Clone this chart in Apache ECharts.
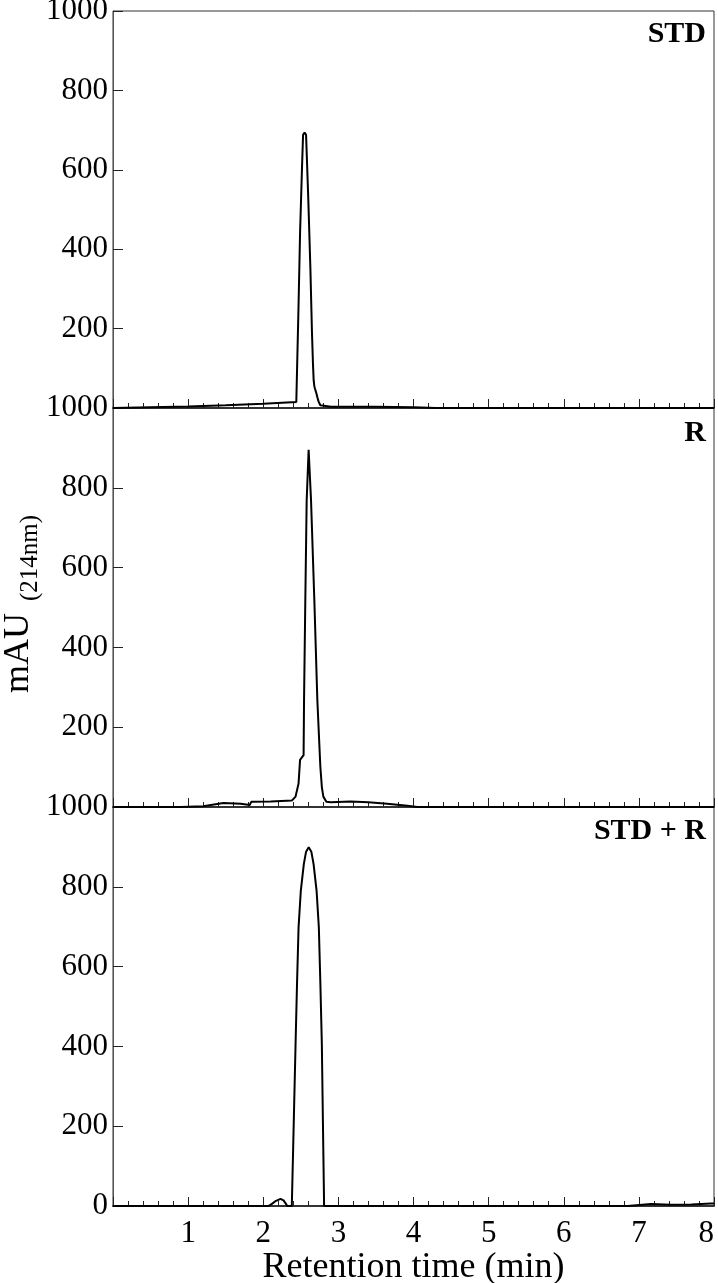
<!DOCTYPE html>
<html>
<head>
<meta charset="utf-8">
<script src="https://cdn.jsdelivr.net/npm/echarts@6/dist/echarts.min.js"></script>
<style>
  html, body { margin: 0; padding: 0; background: #fff; }
  #main { width: 718px; height: 1283px; }
</style>
</head>
<body>
<div id="main"></div>
<script>
// retention time (min) / signal (mAU)
var stdTime = [0, 0.5, 1, 1.5, 2, 2.44, 2.47, 2.49, 2.515, 2.53, 2.55, 2.57, 2.6, 2.627, 2.649, 2.662, 2.671, 2.68, 2.69, 2.707, 2.72, 2.737, 2.76, 2.78, 2.9, 3.5, 4.0, 4.3, 8]
var stdSignal = [0, 2, 4, 7, 11, 15, 260, 440, 600, 688, 694, 688, 523, 355, 187, 110, 70, 55, 48, 37, 27, 16, 7, 2, 3, 3, 2, 0, 0]

var rTime = [0, 0.9, 1.2, 1.47, 1.7, 1.82, 1.84, 2.1, 2.38, 2.43, 2.47, 2.49, 2.537, 2.543, 2.56, 2.578, 2.604, 2.636, 2.68, 2.72, 2.76, 2.78, 2.8, 2.84, 2.9, 3.16, 3.4, 3.65, 3.92, 4.05, 8]
var rSignal = [0, 0, 2, 10, 8, 5, 13, 14, 16, 26, 59, 118, 130, 268, 519, 769, 895, 769, 519, 268, 101, 50, 26, 13, 12, 14, 12, 8, 3, 0, 0]

var mixTime = [0, 2.07, 2.12, 2.17, 2.23, 2.27, 2.3, 2.32, 2.38, 2.4, 2.43, 2.45, 2.47, 2.5, 2.54, 2.57, 2.605, 2.64, 2.67, 2.71, 2.74, 2.76, 2.78, 2.795, 2.81, 6.85, 7.16, 7.43, 7.7, 7.96, 8]
var mixSignal = [0, 0, 6, 13, 18, 14, 6, 0, 0, 160, 405, 560, 698, 790, 857, 888, 899, 888, 857, 790, 698, 560, 405, 200, 0, 0, 5, 3, 4, 6, 6]

var panelNames = ['STD', 'R', 'STD + R']
var xTitle = 'Retention time (min)'
var yTitle = 'mAU'
var ySub = '(214nm)'

var font = 'Liberation Serif'

function pairs (xs, ys) {
  var out = []
  for (var i = 0; i < xs.length; i++) {
    out.push([xs[i], ys[i]])
  }
  return out
}

var gridTops = [11, 408, 807]
var grids = []
var xAxes = []
var yAxes = []
for (var k = 0; k < 3; k++) {
  var last = k === 2
  grids.push({
    left: 113,
    width: 601,
    top: gridTops[k],
    height: last ? 399 : gridTops[k + 1] - gridTops[k],
    outerBoundsMode: 'none',
    containLabel: false,
    show: true,
    borderColor: '#333',
    borderWidth: 1
  })
  xAxes.push({
    gridIndex: k,
    type: 'value',
    min: 0,
    max: 8,
    interval: 1,
    axisLine: { show: true, onZero: false, lineStyle: { color: '#333', width: 2 } },
    axisTick: { show: true, inside: true, length: 9, lineStyle: { color: '#222', width: 1 } },
    minorTick: { show: true, splitNumber: 5, length: 5, lineStyle: { color: '#222', width: 1 } },
    splitLine: { show: false },
    axisLabel: {
      show: last,
      showMinLabel: false,
      alignMaxLabel: 'right',
      margin: 12,
      color: '#000',
      fontFamily: font,
      fontSize: 31
    },
    name: last ? xTitle : '',
    nameLocation: 'middle',
    nameGap: 42,
    nameTextStyle: { color: '#000', fontFamily: font, fontSize: 36 }
  })
  yAxes.push({
    gridIndex: k,
    type: 'value',
    min: 0,
    max: 1000,
    interval: 200,
    axisLine: { show: true, lineStyle: { color: '#555', width: 1 } },
    axisTick: { show: true, inside: true, length: 10, lineStyle: { color: '#222' } },
    splitLine: { show: false },
    axisLabel: {
      showMinLabel: last,
      margin: 5,
      color: '#000',
      fontFamily: font,
      fontSize: 31,
      formatter: function (v) { return String(v) }
    }
  })
}

var seriesData = [pairs(stdTime, stdSignal), pairs(rTime, rSignal), pairs(mixTime, mixSignal)]
var series = []
for (var s = 0; s < 3; s++) {
  series.push({
    type: 'line',
    xAxisIndex: s,
    yAxisIndex: s,
    data: seriesData[s],
    showSymbol: false,
    smooth: false,
    lineStyle: { color: '#000', width: 2 },
    z: 3
  })
}

var titles = []
var titleTops = [19, 418, 816]
for (var t = 0; t < 3; t++) {
  titles.push({
    text: panelNames[t],
    right: 12,
    top: titleTops[t],
    padding: 0,
    textStyle: { color: '#000', fontFamily: font, fontSize: 30, fontWeight: 'bold' }
  })
}

var chart = echarts.init(document.getElementById('main'))
chart.setOption({
  animation: false,
  backgroundColor: '#fff',
  title: titles,
  grid: grids,
  xAxis: xAxes,
  yAxis: yAxes,
  series: series,
  graphic: [
    {
      type: 'text',
      x: 19,
      y: 653,
      rotation: Math.PI / 2,
      style: { text: yTitle, fill: '#000', font: '36px "Liberation Serif"', textAlign: 'center', textVerticalAlign: 'middle' }
    },
    {
      type: 'text',
      x: 30,
      y: 558,
      rotation: Math.PI / 2,
      style: { text: ySub, fill: '#000', font: '25px "Liberation Serif"', textAlign: 'center', textVerticalAlign: 'middle' }
    }
  ]
})
</script>
</body>
</html>
